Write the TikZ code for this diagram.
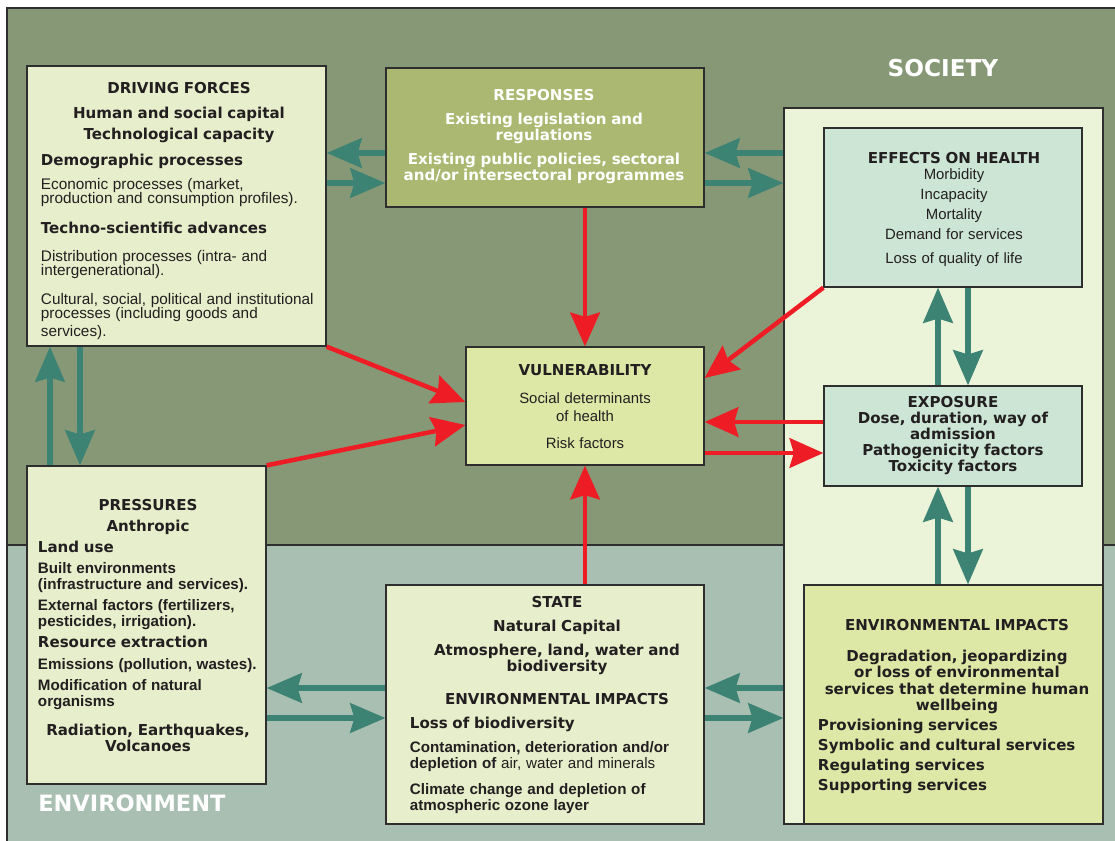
\documentclass[tikz,border=0pt]{standalone}
\usepackage{fontspec}
\setmainfont{Liberation Sans}
\newfontfamily\heavyfam{DejaVu Sans}
\usetikzlibrary{arrows.meta,fit}

\definecolor{societybg}{HTML}{879876}
\definecolor{envbg}{HTML}{A8BFB2}
\definecolor{panelbg}{HTML}{EBF3D9}
\definecolor{palebox}{HTML}{E7EECB}
\definecolor{olivebox}{HTML}{ABB872}
\definecolor{mintbox}{HTML}{CCE5D5}
\definecolor{limebox}{HTML}{DDE8A6}
\definecolor{tealarr}{HTML}{3D8374}
\definecolor{redarr}{HTML}{EE1C24}
\definecolor{edge}{HTML}{2E2E2E}
\definecolor{ink}{HTML}{231F20}

\newcommand{\headfont}{\heavyfam\bfseries\fontsize{10.7}{11.4}\selectfont}
\newcommand{\bodyfont}{\normalfont\fontsize{10.9}{10.4}\selectfont}
\newcommand{\semifont}{\normalfont\bfseries\fontsize{10.8}{11.4}\selectfont}

\begin{document}
\begin{tikzpicture}[x=0.025cm, y=-0.025cm,
    box/.style={draw=edge, line width=0.9pt, inner sep=0pt},
    txt/.style={inner sep=0pt, anchor=north, text=ink,
      execute at begin node={\setlength{\parindent}{0pt}\setlength{\parskip}{#1}}},
    txt/.default=0pt,
    region/.style={draw=edge, line width=0.8pt},
    tarrow/.style={draw=tealarr, line width=3.6pt,
      -{Stealth[length=25pt, width=21pt, inset=3pt]}},
    rarrow/.style={draw=redarr, line width=3.2pt,
      -{Stealth[length=24pt, width=21pt, inset=3pt]}}]
  \useasboundingbox (0,0) rectangle (1115,840);
  \fill[white] (0,0) rectangle (1115,840);
  % society and environment areas
  \draw[region, fill=envbg] (7,545) rectangle (1125,850);
  \draw[region, fill=societybg] (7,8) rectangle (1125,545);
  \node[box, fill=panelbg, fit={(784,108) (1103,824)}] (soc) {};
  \node[text=white, font=\heavyfam\bfseries\fontsize{16.5}{18}\selectfont] (soc-l) at (943,68) {SOCIETY};
  \node[text=white, anchor=west, inner sep=0pt, font=\heavyfam\bfseries\fontsize{16}{18}\selectfont] (env-l) at (38,803) {ENVIRONMENT};

  % boxes
  \node[box, fill=palebox, fit={(27,66) (326,346)}] (drive) {};
  \node[box, fill=olivebox, fit={(386,68) (704,207)}] (resp) {};
  \node[box, fill=mintbox, fit={(824,128) (1082,287)}] (health) {};
  \node[box, fill=limebox, fit={(466,347) (704,465)}] (vul) {};
  \node[box, fill=mintbox, fit={(824,386) (1082,486)}] (expo) {};
  \node[box, fill=palebox, fit={(27,466) (266,784)}] (press) {};
  \node[box, fill=palebox, fit={(386,585) (704,824)}] (state) {};
  \node[box, fill=limebox, fit={(804,585) (1103,824)}] (impact) {};

  % texts
  \node[txt=6.6pt, text width=6.9cm] (drive-t) at (179,82) {%
    \centering\headfont DRIVING FORCES\par
    Human and social capital\\[3.6pt]Technological capacity\par
    \raggedright Demographic processes\par
    \bodyfont Economic processes (market,\\production and consumption profiles).\par
    \setlength{\parskip}{9.6pt}%
    \headfont Techno-scientific advances\par
    \bodyfont Distribution processes (intra- and\\intergenerational).\par
    Cultural, social, political and institutional\\processes (including goods and\\[2pt]services).\par};
  \node[txt=5.6pt, text width=7.6cm, text=white] (resp-t) at (544,89) {%
    \centering\headfont RESPONSES\par
    Existing legislation and\\regulations\par
    Existing public policies, sectoral\\and/or intersectoral programmes\par};
  \node[txt, text width=6cm] (health-t) at (954,152) {%
    \centering\headfont EFFECTS ON HEALTH\par\vspace{-2.6pt}
    \normalfont\fontsize{10.6}{14.2}\selectfont
    Morbidity\\Incapacity\\Mortality\\Demand for services\\[2.5pt]Loss of quality of life\par};
  \node[txt=7pt, text width=5.6cm] (vul-t) at (585,364) {%
    \centering\headfont VULNERABILITY\par
    \normalfont\fontsize{10.6}{12.8}\selectfont Social determinants\\of health\par
    Risk factors\par};
  \node[txt, text width=6.2cm] (expo-t) at (953,396) {%
    \centering\headfont EXPOSURE\\Dose, duration, way of\\admission\\Pathogenicity factors\\Toxicity factors\par};
  \node[txt=3.6pt, text width=5.5cm] (press-t) at (148,499) {%
    \centering\headfont PRESSURES\par
    Anthropic\par
    \raggedright Land use\par
    \semifont Built environments\\(infrastructure and services).\par
    External factors (fertilizers,\\pesticides, irrigation).\par
    \headfont Resource extraction\par
    \semifont Emissions (pollution, wastes).\par
    Modification of natural\\organisms\par\vspace{6pt}
    \centering\headfont Radiation, Earthquakes,\\Volcanoes\par};
  \node[txt=5.6pt, text width=7.35cm] (state-t) at (557,596) {%
    \centering\headfont STATE\par
    Natural Capital\par
    Atmosphere, land, water and\\biodiversity\par\vspace{6.4pt}
    ENVIRONMENTAL IMPACTS\par
    \raggedright Loss of biodiversity\par
    \semifont Contamination, deterioration and/or\\depletion of {\mdseries air, water and minerals}\par\vspace{2pt}
    Climate change and depletion of\\atmospheric ozone layer\par};
  \node[txt, text width=6.95cm] (impact-t) at (957,619) {%
    \centering\headfont ENVIRONMENTAL IMPACTS\par\vspace{11pt}
    Degradation, jeopardizing\\or loss of environmental\\services that determine human\\wellbeing\par\vspace{3pt}
    \raggedright Provisioning services\\[2.8pt]Symbolic and cultural services\\[2.8pt]Regulating services\\[2.8pt]Supporting services\par};

  % teal links
  \draw[tarrow] (resp.west |- 0,153) -- (drive.east |- 0,153);
  \draw[tarrow] (drive.east |- 0,183) -- (resp.west |- 0,183);
  \draw[tarrow] (soc.west |- 0,153) -- (resp.east |- 0,153);
  \draw[tarrow] (resp.east |- 0,183) -- (soc.west |- 0,183);
  \draw[tarrow] (press.north -| 50,0) -- (drive.south -| 50,0);
  \draw[tarrow] (drive.south -| 80,0) -- (press.north -| 80,0);
  \draw[tarrow] (state.west |- 0,688) -- (press.east |- 0,688);
  \draw[tarrow] (press.east |- 0,718) -- (state.west |- 0,718);
  \draw[tarrow] (soc.west |- 0,688) -- (state.east |- 0,688);
  \draw[tarrow] (state.east |- 0,718) -- (soc.west |- 0,718);
  \draw[tarrow] (expo.north -| 938,0) -- (health.south -| 938,0);
  \draw[tarrow] (health.south -| 968,0) -- (expo.north -| 968,0);
  \draw[tarrow] (impact.north -| 938,0) -- (expo.south -| 938,0);
  \draw[tarrow] (expo.south -| 968,0) -- (impact.north -| 968,0);

  % red links
  \draw[rarrow] (resp.south -| vul.north) -- (vul.north);
  \draw[rarrow] (state.north -| vul.south) -- (vul.south);
  \draw[rarrow] (drive.south east) -- (vul.west |- 0,402);
  \draw[rarrow] (press.north east) -- (vul.west |- 0,425);
  \draw[rarrow] (health.south west) -- (vul.east |- 0,378);
  \draw[rarrow] (expo.west |- 0,422) -- (vul.east |- 0,422);
  \draw[rarrow] (vul.east |- 0,453) -- (expo.west |- 0,453);
\end{tikzpicture}
\end{document}
